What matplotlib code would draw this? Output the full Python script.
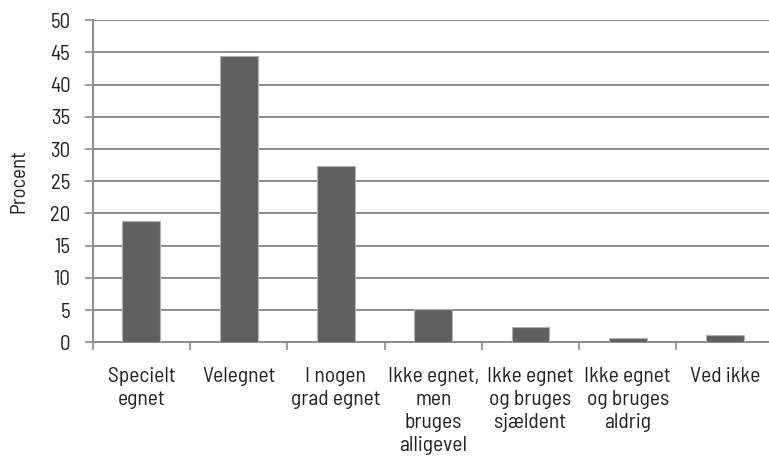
import matplotlib
matplotlib.use("Agg")
import matplotlib.pyplot as plt

categories = ["Specielt\negnet", "Velegnet", "I nogen\ngrad egnet", "Ikke egnet,\nmen\nbruges\nalligevel",
              "Ikke egnet\nog bruges\nsjældent", "Ikke egnet\nog bruges\naldrig", "Ved ikke"]
values = [18.9, 44.5, 27.3, 5.1, 2.4, 0.6, 1.1]
yticks = [0, 5, 10, 15, 20, 25, 30, 35, 40, 45, 50]
ylabel = "Procent"

plt.rcParams['font.family'] = ['Barlow Semi Condensed', 'DejaVu Sans']

fig = plt.figure(figsize=(7.69, 4.57), dpi=100)
ax = fig.add_axes([92.7/769, 114.7/457, 681/769, 322/457])

x = list(range(len(categories)))
ax.bar(x, values, width=0.39, color="#606060", edgecolor="#b0b0b0", linewidth=0.8, zorder=3)

ax.set_xlim(-0.5, len(categories) - 0.5)
ax.set_ylim(0, 50)
ax.set_yticks(yticks)
ax.set_yticklabels([str(v) for v in yticks], fontsize=15, color="#222222")
ax.yaxis.grid(True, color="#8c8c8c", linewidth=1.4, zorder=0)
ax.set_axisbelow(True)

ax.set_xticks([i - 0.5 for i in range(len(categories) + 1)])
ax.set_xticklabels([])
ax.set_xticks(x, minor=True)
ax.set_xticklabels(categories, minor=True, fontsize=15.5, color="#222222", linespacing=1.25, va="top")
ax.tick_params(axis="x", which="major", length=6, width=1.2, color="#8c8c8c")
ax.tick_params(axis="x", which="minor", length=0, pad=18)
ax.tick_params(axis="y", length=6, width=1.2, color="#8c8c8c", pad=10)

for s in ["top", "right"]:
    ax.spines[s].set_visible(False)
for s in ["left", "bottom"]:
    ax.spines[s].set_color("#8c8c8c")
    ax.spines[s].set_linewidth(1.4)

ax.set_ylabel(ylabel, fontsize=15, color="#222222")
ax.yaxis.set_label_coords(-64/681, 0.5)

fig.savefig("out.png", dpi=100)
